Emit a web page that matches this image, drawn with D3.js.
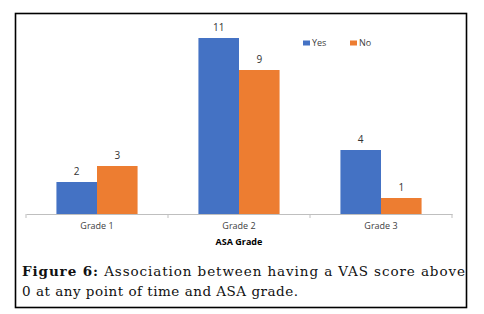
<!DOCTYPE html>
<html>
<head>
<meta charset="utf-8">
<script src="https://cdn.jsdelivr.net/npm/d3@7"></script>
<style>
    body { margin: 0; background: #fff; }
    svg { display: block; }
    .tick-label { font-family: "Open Sans", sans-serif; font-size: 9px; fill: #404040; }
</style>
</head>
<body>
<div id="chart"></div>
<script>

    /*
    DATA
    */
    const grades = ["Grade 1", "Grade 2", "Grade 3"];
    const series = ["Yes", "No"];
    const yesValues = [2, 11, 4];
    const noValues = [3, 9, 1];
    const colors = ["#4472c4", "#ed7d31"];

    const data = grades.map(function(g, i) {
        return {grade: g, values: [yesValues[i], noValues[i]]};
    });

    /*
    DIMENSIONS AND SVG
    */
    const width = 484;
    const height = 314;
    const margin = {top: 38, left: 26, right: 32, bottom: 100};

    const svg = d3.select("#chart")
        .append("svg")
        .attr("width", width)
        .attr("height", height);

    // outer frame
    svg.append("rect")
        .attr("x", 15.5)
        .attr("y", 13.5)
        .attr("width", 451)
        .attr("height", 294)
        .attr("fill", "none")
        .attr("stroke", "#000")
        .attr("stroke-width", 1.6);

    /*
    SCALES
    */
    const xScale = d3.scaleBand()
        .domain(grades)
        .range([margin.left, width - margin.right])
        .paddingInner(0)
        .paddingOuter(0);

    const xInner = d3.scaleBand()
        .domain(series)
        .range([0, xScale.bandwidth()])
        .paddingInner(0)
        .paddingOuter(0.75);

    const yScale = d3.scaleLinear()
        .domain([0, 11])
        .range([height - margin.bottom, margin.top]);

    /*
    BARS
    */
    const groups = svg.selectAll(".group")
        .data(data)
        .enter()
        .append("g")
        .attr("class", "group")
        .attr("transform", function(d) { return `translate(${xScale(d.grade)},0)`; });

    groups.selectAll("rect")
        .data(function(d) { return d.values.map(function(v, i) { return {s: series[i], v: v, i: i}; }); })
        .enter()
        .append("rect")
            .attr("x", function(d) { return xInner(d.s); })
            .attr("y", function(d) { return yScale(d.v); })
            .attr("width", xInner.bandwidth())
            .attr("height", function(d) { return yScale(0) - yScale(d.v); })
            .attr("fill", function(d) { return colors[d.i]; });

    groups.selectAll(".val")
        .data(function(d) { return d.values.map(function(v, i) { return {s: series[i], v: v}; }); })
        .enter()
        .append("text")
            .attr("class", "val")
            .attr("x", function(d) { return xInner(d.s) + xInner.bandwidth() / 2; })
            .attr("y", function(d) { return yScale(d.v) - 7; })
            .attr("text-anchor", "middle")
            .style("font-family", "'Open Sans', sans-serif")
            .style("font-size", "10px")
            .style("fill", "#333")
            .text(function(d) { return d.v; });

    /*
    AXIS
    */
    const xAxis = svg.append("g")
        .attr("transform", `translate(0,${height - margin.bottom})`)
        .call(d3.axisBottom(xScale).tickSize(0).tickPadding(9));

    xAxis.select(".domain").attr("stroke", "#bfbfbf").attr("stroke-width", 1);
    xAxis.selectAll(".tick text")
        .attr("class", "tick-label")
        .attr("fill", "#404040");

    // tick marks at band boundaries
    const bounds = grades.map(function(g) { return xScale(g); }).concat([xScale.range()[1]]);
    xAxis.selectAll(".bound")
        .data(bounds)
        .enter()
        .append("line")
        .attr("x1", function(d) { return d; })
        .attr("x2", function(d) { return d; })
        .attr("y1", 0)
        .attr("y2", 4)
        .attr("stroke", "#bfbfbf");

    svg.append("text")
        .attr("x", (xScale.range()[0] + xScale.range()[1]) / 2)
        .attr("y", 245)
        .attr("text-anchor", "middle")
        .style("font-family", "'Open Sans', sans-serif")
        .style("font-size", "9px")
        .style("font-weight", "bold")
        .style("fill", "#000")
        .text("ASA Grade");

    /*
    LEGEND
    */
    const legend = svg.append("g").attr("transform", "translate(303,40)");
    const legendX = [0, 47];
    series.forEach(function(s, i) {
        legend.append("rect")
            .attr("x", legendX[i])
            .attr("y", 0.5)
            .attr("width", 7)
            .attr("height", 5)
            .attr("fill", colors[i]);
        legend.append("text")
            .attr("x", legendX[i] + 9)
            .attr("y", 6)
            .style("font-family", "'Open Sans', sans-serif")
            .style("font-size", "9px")
            .style("fill", "#404040")
            .text(s);
    });

    /*
    CAPTION
    */
    const cap1 = svg.append("text")
        .attr("x", 22)
        .attr("y", 276)
        .attr("textLength", 443)
        .attr("lengthAdjust", "spacing")
        .style("font-family", "'DejaVu Serif', serif")
        .style("font-size", "13.5px")
        .style("fill", "#111");
    cap1.append("tspan").style("font-weight", "bold").text("Figure 6:");
    cap1.append("tspan").text(" Association between having a VAS score above");

    svg.append("text")
        .attr("x", 22)
        .attr("y", 296)
        .attr("textLength", 276)
        .attr("lengthAdjust", "spacing")
        .style("font-family", "'DejaVu Serif', serif")
        .style("font-size", "13.5px")
        .style("fill", "#111")
        .text("0  at any point of time and ASA grade.");

</script>
</body>
</html>
